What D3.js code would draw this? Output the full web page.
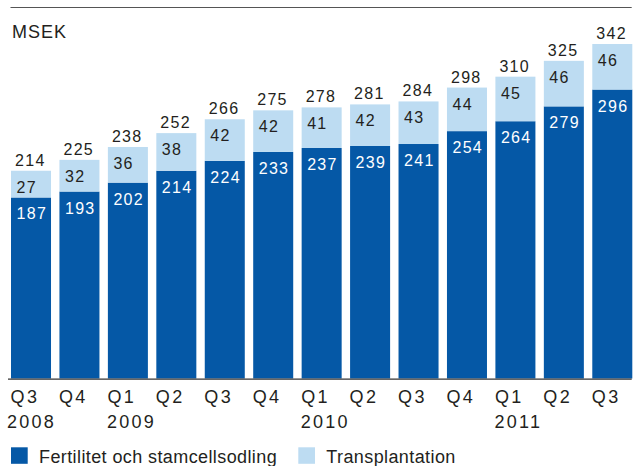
<!DOCTYPE html>
<html>
<head>
<meta charset="utf-8">
<script src="https://cdn.jsdelivr.net/npm/d3@7"></script>
<style>
  html, body { margin: 0; padding: 0; background: #fff; }
  svg { display: block; font-family: "Liberation Sans", Arial, Helvetica, sans-serif; }
</style>
</head>
<body>
<svg id="chart" width="644" height="466"></svg>
<script>
const quarters = ["Q3","Q4","Q1","Q2","Q3","Q4","Q1","Q2","Q3","Q4","Q1","Q2","Q3"];
const years    = ["2008","","2009","","","","2010","","","","2011","",""];
const fertilitet     = [187,193,202,214,224,233,237,239,241,254,264,279,296];
const transplantation = [27,32,36,38,42,42,41,42,43,44,45,46,46];
const totals   = [214,225,238,252,266,275,278,281,284,298,310,325,342];
const seriesNames = ["Fertilitet och stamcellsodling","Transplantation"];
const unitLabel = "MSEK";

const colors = ["#0558a6", "#bddcf2"];
const textColor = "#231f20";

const svg = d3.select("#chart");
const ids = quarters.map((q, i) => i);

const plotBottom = 378.5;
const x = d3.scaleBand().domain(ids).range([11, 632.3]).paddingInner(0.174).paddingOuter(0);
const y = d3.scaleLinear().domain([4.2, 342]).range([plotBottom, 44]);

const rows = ids.map(i => ({ i, f: fertilitet[i], t: transplantation[i] }));
const stack = d3.stack().keys(["f", "t"]);
const layers = stack(rows);

// top rule
svg.append("line").attr("x1", 10.5).attr("x2", 631.7).attr("y1", 7.5).attr("y2", 7.5)
  .attr("stroke", "#555").attr("stroke-width", 1.2);

// unit label
svg.append("text").attr("x", 12).attr("y", 37.5).attr("fill", textColor)
  .attr("font-size", 18).attr("letter-spacing", 1).text(unitLabel);

// bars
layers.forEach((layer, li) => {
  svg.append("g").selectAll("rect").data(layer).join("rect")
    .attr("x", d => x(d.data.i))
    .attr("width", x.bandwidth())
    .attr("y", d => y(d[1]))
    .attr("height", d => Math.min(plotBottom, y(d[0])) - y(d[1]))
    .attr("fill", colors[li]);
});

// segment labels
layers.forEach((layer, li) => {
  svg.append("g").selectAll("text").data(layer).join("text")
    .attr("x", d => x(d.data.i) + 5.5)
    .attr("y", d => y(d[1]) + 22)
    .attr("font-size", 16).attr("letter-spacing", 1.3)
    .attr("fill", li === 0 ? "#ffffff" : textColor)
    .text(d => li === 0 ? d.data.f : d.data.t);
});

// totals
svg.append("g").selectAll("text").data(rows).join("text")
  .attr("x", d => x(d.i) + 4)
  .attr("y", d => y(d.f + d.t) - 5)
  .attr("font-size", 16).attr("letter-spacing", 1.3)
  .attr("fill", textColor)
  .text(d => totals[d.i]);

// x axis baseline
svg.append("line").attr("x1", 8).attr("x2", 631.7).attr("y1", 379.2).attr("y2", 379.2)
  .attr("stroke", "#333").attr("stroke-width", 1.2);

// quarter labels
svg.append("g").selectAll("text").data(ids).join("text")
  .attr("x", i => x(i) - 0.5)
  .attr("y", 403.3)
  .attr("font-size", 18).attr("letter-spacing", 2.4)
  .attr("fill", textColor)
  .text(i => quarters[i]);

// year labels
svg.append("g").selectAll("text").data(ids.filter(i => years[i])).join("text")
  .attr("x", i => x(i) - (i === 0 ? 4 : 0.8))
  .attr("y", 428.3)
  .attr("font-size", 18).attr("letter-spacing", 2.2)
  .attr("fill", textColor)
  .text(i => years[i]);

// legend
const legendX = [11, 298.3];
seriesNames.forEach((name, k) => {
  const g = svg.append("g").attr("transform", `translate(${legendX[k]},447.3)`);
  g.append("rect").attr("width", 16.7).attr("height", 16.5).attr("fill", colors[k]);
  g.append("text").attr("x", 28).attr("y", 15.4)
    .attr("font-size", 18).attr("letter-spacing", 0.4)
    .attr("fill", textColor).text(name);
});
</script>
</body>
</html>
